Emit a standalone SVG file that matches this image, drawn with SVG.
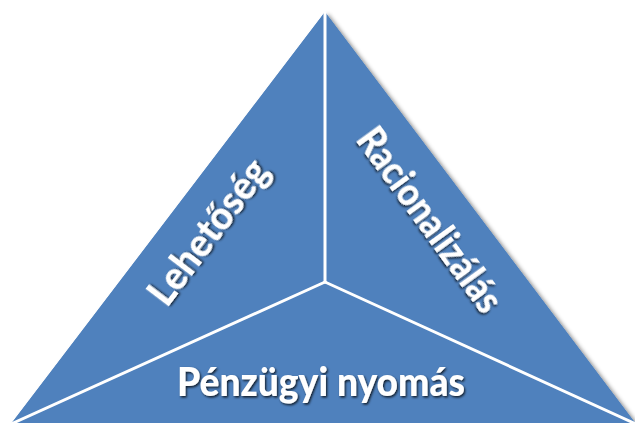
<svg xmlns="http://www.w3.org/2000/svg" width="635" height="423" viewBox="0 0 635 423">
  <defs>
    <filter id="shapeShadow" x="-10%" y="-10%" width="120%" height="120%">
      <feDropShadow dx="3" dy="2" stdDeviation="2" flood-color="#000" flood-opacity="0.45"/>
    </filter>
    <filter id="textShadow" x="-20%" y="-20%" width="140%" height="140%">
      <feDropShadow dx="1.2" dy="1.5" stdDeviation="1" flood-color="#000" flood-opacity="0.8"/>
    </filter>
  </defs>
  <style>
    .sector { fill: #4F81BD; }
    .label { fill: #FFFFFF; font-family: "Lato", "Open Sans", "Liberation Sans", sans-serif; font-weight: 900; font-size: 39px; text-anchor: middle; dominant-baseline: central; filter: url(#textShadow); }
    .divider { stroke: #FFFFFF; stroke-width: 3; stroke-linecap: round; fill: none; }
  </style>

  <!-- outer triangle carrying the soft shadow -->
  <polygon points="325,12 11,424 636,424" class="sector" filter="url(#shapeShadow)"/>

  <g id="lehetoseg">
    <polygon class="sector" points="325,12 325,282 11,424"/>
    <text class="label" x="0" y="0" font-size="40" textLength="172" lengthAdjust="spacingAndGlyphs" transform="translate(207,231) rotate(-52.8)">Lehetőség</text>
  </g>

  <g id="racionalizalas">
    <polygon class="sector" points="325,12 636,424 325,282"/>
    <text class="label" x="0" y="0" textLength="218" lengthAdjust="spacingAndGlyphs" transform="translate(431,219) rotate(54)">Racionalizálás</text>
  </g>

  <g id="penzugyi-nyomas">
    <polygon class="sector" points="325,282 636,424 11,424"/>
    <text class="label" x="321" y="381" textLength="288" lengthAdjust="spacingAndGlyphs">Pénzügyi nyomás</text>
  </g>

  <g id="connectors">
    <line class="divider" x1="325" y1="13" x2="325" y2="282"/>
    <line class="divider" x1="325" y1="282" x2="11" y2="424"/>
    <line class="divider" x1="325" y1="282" x2="636" y2="424"/>
  </g>
</svg>
